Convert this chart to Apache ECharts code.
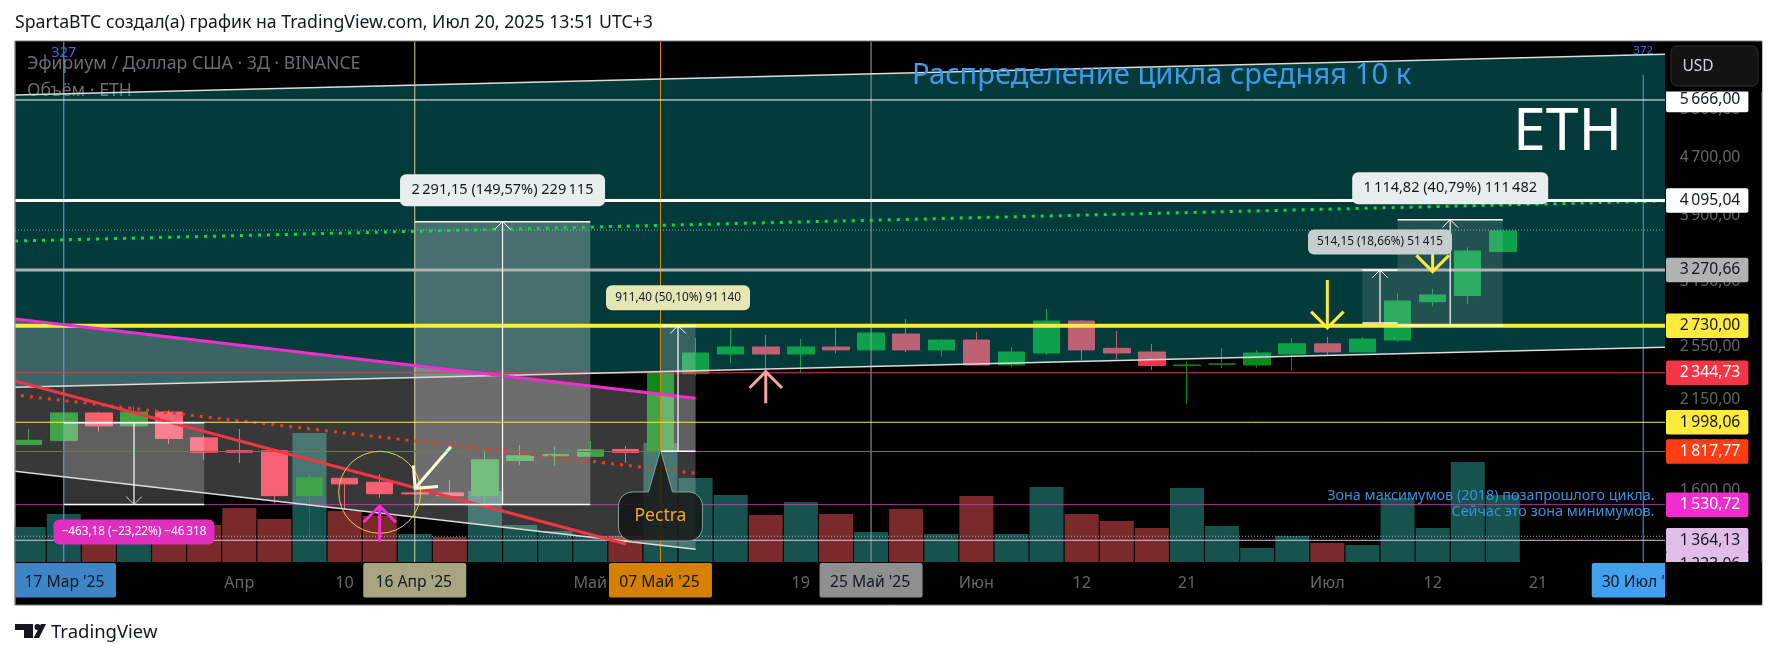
<!DOCTYPE html>
<html>
<head>
<meta charset="utf-8">
<style>
html, body { margin: 0; padding: 0; background: #fff; }
#chart { width: 1777px; height: 659px; }
</style>
<script src="https://cdn.jsdelivr.net/npm/echarts@6/dist/echarts.min.js"></script>
</head>
<body>
<div id="chart"></div>
<script>

// 3D bars, bar 0 = 14 Mar '25
var opens  = [1859,1883,2059,1975,2065,1900,1822,1822,1576,1667,1646,1590,1590,1576,1766,1793,1790,1830,1816,2338,2492,2549,2492,2549,2525,2658,2525,2607,2405,2500,2772,2538,2508,2400,2411,2405,2492,2575,2508,2607,2951,3010,3470];
var closes = [1885,2059,1975,2065,1896,1814,1814,1576,1669,1637,1586,1585,1576,1770,1793,1800,1828,1813,2341,2500,2549,2492,2549,2525,2667,2525,2607,2405,2508,2772,2525,2500,2401,2405,2413,2500,2575,2508,2615,2958,3016,3477,3709];
var lows   = [1857,1880,1939,1975,1862,1770,1752,1537,1380,1504,1566,1583,1574,1540,1741,1736,1790,1753,1812,2324,2421,2355,2346,2497,2525,2508,2470,2405,2389,2483,2444,2452,2365,2118,2383,2383,2360,2476,2508,2590,2905,2929,3470];
var highs  = [1955,2062,2066,2103,2079,1912,1955,1822,1690,1667,1690,1592,1658,1825,1857,1847,1880,1850,2345,2624,2705,2650,2616,2707,2667,2790,2616,2676,2549,2883,2780,2684,2574,2429,2539,2525,2624,2633,2633,3032,3078,3518,3709];
var volumes = [1750,2400,1600,1450,1600,1850,2700,2150,6450,2550,2300,1400,1250,3550,1850,1550,1300,1300,5950,4200,3350,2350,3000,2400,1500,2650,1400,3300,1400,3750,2400,2050,1700,3700,1800,700,1300,950,850,3200,1700,5000,3350];
var volumeUp = [1,1,0,1,0,0,0,0,1,0,0,1,0,1,1,1,1,0,1,1,1,0,1,0,1,0,1,0,1,1,0,0,0,1,1,1,1,0,1,1,1,1,1];

var xTickBars = [2, 6, 9, 12, 16, 19, 22, 25, 27, 30, 33, 37, 40, 43];
var xTickText = ['20', 'Апр', '10', '19', 'Май', '10', '19', '28', 'Июн', '12', '21', 'Июл', '12', '21'];
var yTicks = [5500, 4700, 3900, 3150, 2550, 2150, 1850, 1600];

var levelPrices = [5666, 4095.04, 3270.66, 2730, 2344.73, 1998.06, 1817.77, 1530.72, 1364.13, 1223.06];
var levelColors = ['#ffffff', '#ffffff', '#b2b2b2', '#ffeb3b', '#f23645', '#ffeb3b', '#ff3d14', '#f02ed0', '#e1bee7', '#e1bee7'];
var levelLineColors = ['#ffffff', '#ffffff', '#b2b2b2', '#ffeb3b', '#d9434e', '#ffeb3b', '#ff3d14', '#c84ab4', '#e1bee7', '#e1bee7'];
var levelText = ['#131722', '#131722', '#131722', '#131722', '#ffffff', '#131722', '#ffffff', '#ffffff', '#131722', '#131722'];
var levelWidths = [1, 3, 3, 4, 1, 1, 1, 0.8, 1, 1];
var levelShift = [0, 0, 0, 0, 0, 0, 0, 0, 0, -10];
var dottedLevels = [3720, 1382];

var dateBars = [1, 11, 18, 24, 46];
var dateText = ["17 Мар '25", "16 Апр '25", "07 Май '25", "25 Май '25", "30 Июл '25"];
var dateColors = ['#3d85c6', '#a9a581', '#d58000', '#8f8f8f', '#42a0f0'];
var dateLines = ['#6fa8dc', '#d8d0a0', '#e08a00', '#a0a0a0', '#42a0f0'];

// trend lines: [bar, price] ends
var channelTop = [[-0.39, 5758], [46.62, 6569]];
var channelBottom = [[-0.39, 2237], [46.62, 2546]];
var wedgeTop = [[-0.39, 2791], [19, 2159]];
var wedgeBottom = [[-0.39, 1705], [19, 1325]];
var redTrend = [[-0.39, 2283], [17.02, 1348]];
var greenDots = [[-0.39, 3591], [46.62, 4087]];
var redDots = [[-0.22, 2178], [19, 1694]];

// price range tools
var rangeStart = [1, 11, 18, 38, 39];
var rangeEnd = [5, 16, 19, 39, 42];
var rangeFrom = [1995, 1531.8, 1819.2, 2755.3, 2733];
var rangeTo = [1531.8, 3823, 2730.6, 3269.5, 3847.8];
var rangeText = ['−463,18 (−23,22%) −46\u2009318', '2\u2009291,15 (149,57%) 229\u2009115', '911,40 (50,10%) 91\u2009140', '514,15 (18,66%) 51\u2009415', '1\u2009114,82 (40,79%) 111\u2009482'];
var rangeAlpha = [0.2, 0.27, 0.2, 0.12, 0.12];
var rangePillColor = ['#e02fc0', '#e8eded', '#e5e5b5', '#c8cdcd', '#e8eded'];
var rangePillText = ['#ffffff', '#131722', '#131722', '#131722', '#131722'];
var rangePillWidth = [161, 205, 144, 144, 196];
var rangePillHeight = [25, 32, 25, 25, 32];
var rangeFontSize = [11.7, 14.5, 11.8, 11.8, 14.5];

// arrows: [bar tail, price tail, bar tip, price tip]
var arrows = [
    [10, 1358, 10, 1524],
    [21, 2124, 21, 2353],
    [37, 3165, 37, 2711],
    [40, 3661, 40, 3252],
    [12.03, 1846, 11.01, 1614]
];
var arrowColors = ['#f02ed0', '#f5a3a3', '#ffeb3b', '#ffeb3b', '#fff8dc'];

var circleCenter = [10, 1593];
var pectraTip = [18, 1827];

var X_MIN = -0.39, X_MAX = 46.62, Y_MIN = 1271.6, Y_MAX = 6846;
var FONT = '"Noto Sans", sans-serif';

var chart = echarts.init(document.getElementById('chart'));

function FormatPrice(v) {
    var parts = v.toFixed(2).split('.');
    return parts[0].replace(/\B(?=(\d{3})+$)/g, '\u2009') + ',' + parts[1];
}

function Poly(api, points, style) {
    var pts = points.map(function (p) { return api.coord(p); });
    return { type: 'polygon', shape: { points: pts }, style: style };
}

function Line(api, points, color, width, dash) {
    var pts = points.map(function (p) { return api.coord(p); });
    return {
        type: 'polyline',
        shape: { points: pts },
        style: { fill: 'none', stroke: color, lineWidth: width, lineDash: dash || null }
    };
}

function Segs(pts, color, width) {
    return {
        type: 'polyline',
        shape: { points: pts },
        style: { fill: 'none', stroke: color, lineWidth: width }
    };
}

function Box(x, y, w, h, color, r) {
    return { type: 'rect', shape: { x: x, y: y, width: w, height: h, r: r || 0 }, style: { fill: color } };
}

function Txt(x, y, text, color, size, align) {
    return {
        type: 'text',
        style: {
            x: x, y: y, text: text, fill: color,
            font: size + 'px ' + FONT,
            textAlign: align || 'center',
            textVerticalAlign: 'middle'
        }
    };
}

function Layer(name, z, clip, draw) {
    return {
        type: 'custom',
        name: name,
        z: z,
        clip: clip,
        silent: true,
        data: [[0, 2000]],
        encode: { x: 0, y: 1 },
        renderItem: function (params, api) {
            return { type: 'group', children: draw(api) };
        }
    };
}

function DrawZones(api) {
    var out = [];

    out.push(Poly(api, [channelTop[0], channelTop[1], channelBottom[1], channelBottom[0]], { fill: 'rgba(16,232,232,0.25)' }));
    out.push(Poly(api, [wedgeTop[0], wedgeTop[1], wedgeBottom[1], wedgeBottom[0]], { fill: 'rgba(255,255,255,0.22)' }));

    rangeStart.forEach(function (s, i) {
        out.push(Poly(api, [[s, rangeFrom[i]], [rangeEnd[i], rangeFrom[i]], [rangeEnd[i], rangeTo[i]], [s, rangeTo[i]]],
            { fill: 'rgba(255,255,255,' + rangeAlpha[i] + ')' }));
    });

    return out;
}

function ArrowHead(tip, tail, len) {
    var ang = Math.atan2(tail[1] - tip[1], tail[0] - tip[0]);
    var a1 = ang + Math.PI / 4, a2 = ang - Math.PI / 4;
    return [
        [tip[0] + len * Math.cos(a1), tip[1] + len * Math.sin(a1)],
        tip,
        [tip[0] + len * Math.cos(a2), tip[1] + len * Math.sin(a2)]
    ];
}

function DrawLines(api) {
    var out = [];

    dateBars.forEach(function (b, i) {
        var top = i == 4 ? 6150 : Y_MAX;
        out.push(Line(api, [[b, top], [b, Y_MIN]], dateLines[i], 1));
    });

    dottedLevels.forEach(function (p) {
        out.push(Line(api, [[X_MIN, p], [X_MAX, p]], 'rgba(150,200,195,0.85)', 1, [1, 2]));
    });

    out.push(Line(api, greenDots, '#00e040', 3, [3, 6]));
    out.push(Line(api, redDots, '#f03a1e', 3, [3, 6]));

    levelPrices.forEach(function (p, i) {
        out.push(Line(api, [[X_MIN, p], [X_MAX, p]], levelLineColors[i], levelWidths[i]));
    });

    out.push(Line(api, channelTop, '#dcdcdc', 1.5));
    out.push(Line(api, channelBottom, '#dcdcdc', 1.5));
    out.push(Line(api, wedgeBottom, '#dcdcdc', 1.5));
    out.push(Line(api, wedgeTop, '#f02ed0', 3));
    out.push(Line(api, redTrend, '#f23645', 3));

    rangeStart.forEach(function (s, i) {
        var mid = (s + rangeEnd[i]) / 2;
        out.push(Line(api, [[s, rangeFrom[i]], [rangeEnd[i], rangeFrom[i]]], '#ffffff', 1.5));
        out.push(Line(api, [[s, rangeTo[i]], [rangeEnd[i], rangeTo[i]]], '#ffffff', 1.5));
        out.push(Line(api, [[mid, rangeFrom[i]], [mid, rangeTo[i]]], '#ffffff', 1.2));
        var tip = api.coord([mid, rangeTo[i]]);
        var tail = api.coord([mid, rangeFrom[i]]);
        out.push(Segs(ArrowHead(tip, tail, 11), i == 0 ? '#d0d0d0' : '#ffffff', 1));
    });

    var c = api.coord(circleCenter);
    out.push({
        type: 'circle',
        shape: { cx: c[0], cy: c[1], r: 41 },
        style: { fill: 'none', stroke: '#e8d24a', lineWidth: 1 }
    });

    arrows.forEach(function (a, i) {
        var tail = api.coord([a[0], a[1]]);
        var tip = api.coord([a[2], a[3]]);
        out.push(Segs([tail, tip], arrowColors[i], 3));
        out.push(Segs(ArrowHead(tip, tail, 23), arrowColors[i], 3));
    });

    return out;
}

function CalloutPoints(tip, left, right, top, bottom, r) {
    var pts = [tip, [tip[0] + 12, top]];
    function corner(cx, cy, from) {
        for (var k = 0; k <= 6; k++) {
            var a = from + k / 6 * Math.PI / 2;
            pts.push([cx + r * Math.cos(a), cy + r * Math.sin(a)]);
        }
    }
    corner(right - r, top + r, -Math.PI / 2);
    corner(right - r, bottom - r, 0);
    corner(left + r, bottom - r, Math.PI / 2);
    corner(left + r, top + r, Math.PI);
    pts.push([tip[0] - 12, top]);
    return pts;
}

function DrawLabels(api) {
    var out = [];
    var right = api.coord([X_MAX, Y_MIN]);
    var axisLeft = right[0];
    var axisBottom = right[1];

    // first volume bar is cut by the pane edge
    out.push(Box(0, 41, 14.5, 564, '#ffffff'));
    out.push(Box(14.5, 41, 1, 564, '#7a7a7a'));

    // range tool pills
    rangeStart.forEach(function (s, i) {
        var mid = api.coord([(s + rangeEnd[i]) / 2, rangeTo[i]]);
        var below = rangeTo[i] < rangeFrom[i];
        var h = rangePillHeight[i], w = rangePillWidth[i];
        var y = below ? mid[1] + 15 : mid[1] - 15.5 - h;
        out.push(Box(mid[0] - w / 2, y, w, h, rangePillColor[i], 6));
        out.push(Txt(mid[0], y + h / 2, rangeText[i], rangePillText[i], rangeFontSize[i]));
    });

    // Pectra note
    var tip = api.coord(pectraTip);
    out.push({
        type: 'polygon',
        shape: { points: CalloutPoints(tip, tip[0] - 42, tip[0] + 42, tip[1] + 42, tip[1] + 91, 14) },
        style: { fill: 'rgba(18,18,18,0.82)', stroke: '#8a9a9a', lineWidth: 1 }
    });
    out.push(Txt(tip[0], tip[1] + 66, 'Pectra', '#f7a531', 17.5));

    // bar numbers over the date lines
    out.push(Txt(api.coord([1, Y_MAX])[0], 53, '327', '#2f6fe0', 14.5));
    out.push(Txt(api.coord([46, Y_MAX])[0], 51, '372', '#2f6fe0', 11.5));

    // date tags
    dateBars.forEach(function (b, i) {
        var c = api.coord([b, Y_MIN]);
        var w = i == 0 ? 101 : 103;
        var x = i == 0 ? 15 : c[0] - 51.5;
        out.push(Box(x, axisBottom + 1, w, 34.5, dateColors[i], 2));
        out.push(Txt(x + w / 2 - 1, axisBottom + 21, dateText[i], '#131722', 15.7));
    });

    // price axis
    yTicks.forEach(function (p) {
        var c = api.coord([X_MAX, p]);
        out.push(Txt(axisLeft + 45, c[1], FormatPrice(p), '#666666', 15.7));
    });
    levelPrices.forEach(function (p, i) {
        var c = api.coord([X_MAX, p]);
        var y = c[1] + levelShift[i];
        out.push(Box(axisLeft + 1, y - 12.2, 82.4, 24.5, levelColors[i], 2));
        out.push(Txt(axisLeft + 45, y, FormatPrice(p), levelText[i], 15.7));
    });

    // cover what sticks out of the price and date panes
    out.push(Box(axisLeft, axisBottom, 97, 42.5, '#000000'));
    out.push(Box(axisLeft + 1, 42, 96, 49.5, '#000000'));
    out.push({
        type: 'rect',
        shape: { x: axisLeft + 6, y: 46, width: 87, height: 40, r: 6 },
        style: { fill: '#131313', stroke: '#2f2f2f', lineWidth: 1 }
    });
    out.push(Txt(axisLeft + 33, 66.5, 'USD', '#d1d4dc', 15.5));

    return out;
}

var candleData = opens.map(function (o, i) { return [i, o, closes[i], lows[i], highs[i]]; });
var volumeData = volumes.map(function (v, i) {
    return { value: [i, v], itemStyle: { color: volumeUp[i] ? '#16534e' : '#7a2a2b' } };
});

var option = {
    animation: false,
    backgroundColor: '#ffffff',
    grid: { left: 15, right: 112, top: 41.5, bottom: 97 },
    xAxis: {
        type: 'value',
        min: X_MIN,
        max: X_MAX,
        splitLine: { show: false },
        axisLine: { show: false },
        axisTick: { show: false },
        axisLabel: {
            customValues: xTickBars,
            formatter: function (v) { return xTickText[xTickBars.indexOf(v)]; },
            color: '#666666',
            fontSize: 16.2,
            fontFamily: 'Noto Sans',
            margin: 13
        }
    },
    yAxis: [{
        type: 'log',
        min: Y_MIN,
        max: Y_MAX,
        show: false
    }, {
        type: 'value',
        min: 0,
        max: 26025,
        show: false
    }],
    series: [{
        type: 'bar',
        name: 'Объём',
        xAxisIndex: 0,
        yAxisIndex: 1,
        z: 1,
        barWidth: 34,
        silent: true,
        data: volumeData
    }, {
        type: 'candlestick',
        name: 'ETHUSD',
        xAxisIndex: 0,
        yAxisIndex: 0,
        z: 2,
        barWidth: 27,
        silent: true,
        encode: { x: 0, y: [1, 2, 3, 4] },
        itemStyle: {
            color: '#0c8a18',
            color0: '#f7354e',
            borderColor: '#0c8a18',
            borderColor0: '#f7354e',
            borderWidth: 1
        },
        data: candleData
    },
    Layer('zones', 3, true, DrawZones),
    Layer('lines', 4, true, DrawLines),
    Layer('labels', 6, false, DrawLabels)],
    graphic: [
        { type: 'rect', z: -1, silent: true, shape: { x: 15, y: 41, width: 1747, height: 564 }, style: { fill: '#000000', stroke: '#7a7a7a', lineWidth: 1 } },
        { type: 'text', z: 1, silent: true, style: { x: 15, y: 23, text: 'SpartaBTC создал(а) график на TradingView.com, Июл 20, 2025 13:51 UTC+3', fill: '#131722', font: '17.7px ' + FONT, textVerticalAlign: 'middle' } },
        { type: 'text', z: 1, silent: true, style: { x: 27, y: 63.5, text: 'Эфириум / Доллар США · 3Д · BINANCE', fill: '#6c6c72', font: '17.7px ' + FONT, textVerticalAlign: 'middle' } },
        { type: 'text', z: 1, silent: true, style: { x: 27, y: 90.5, text: 'Объём · ETH', fill: '#6c6c72', font: '17.7px ' + FONT, textVerticalAlign: 'middle' } },
        { type: 'text', z: 100, silent: true, style: { x: 912, y: 76, text: 'Распределение цикла средняя 10 к', fill: '#3d9be9', font: '29.2px ' + FONT, textVerticalAlign: 'middle' } },
        { type: 'text', z: 100, silent: true, style: { x: 1513, y: 133, text: 'ETH', fill: '#ffffff', font: '59px ' + FONT, textVerticalAlign: 'middle' } },
        { type: 'text', z: 100, silent: true, style: { x: 1654.5, y: 495.5, text: 'Зона максимумов (2018) позапрошлого цикла.', fill: '#3d8fdc', font: '14.4px ' + FONT, textAlign: 'right', textVerticalAlign: 'middle' } },
        { type: 'text', z: 100, silent: true, style: { x: 1654.5, y: 512, text: 'Сейчас это зона минимумов.', fill: '#3d8fdc', font: '14.4px ' + FONT, textAlign: 'right', textVerticalAlign: 'middle' } },
        { type: 'polygon', z: 1, silent: true, shape: { points: [[15, 624], [33, 624], [33, 638], [24, 638], [24, 630], [15, 630]] }, style: { fill: '#131722' } },
        { type: 'circle', z: 1, silent: true, shape: { cx: 37.5, cy: 627, r: 3 }, style: { fill: '#131722' } },
        { type: 'polygon', z: 1, silent: true, shape: { points: [[41, 624], [46, 624], [39, 638], [33.5, 638]] }, style: { fill: '#131722' } },
        { type: 'text', z: 1, silent: true, style: { x: 51, y: 633, text: 'TradingView', fill: '#131722', font: '18.5px ' + FONT, textVerticalAlign: 'middle' } }
    ]
};

chart.setOption(option);
</script>
</body>
</html>
